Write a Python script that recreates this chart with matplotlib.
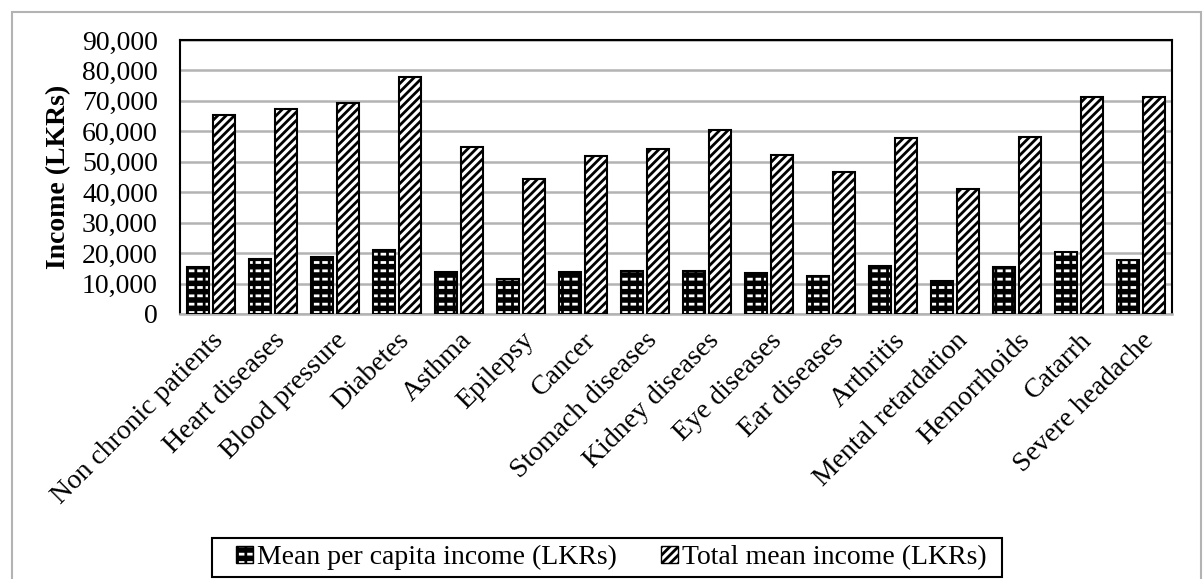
import numpy as np
import matplotlib.pyplot as plt
from matplotlib.ticker import FuncFormatter
from matplotlib.patches import Rectangle

plt.rcParams['font.family'] = ['Liberation Serif', 'DejaVu Serif']
plt.rcParams['hatch.linewidth'] = 2.0

categories = ['Non chronic patients', 'Heart diseases', 'Blood pressure', 'Diabetes',
              'Asthma', 'Epilepsy', 'Cancer', 'Stomach diseases', 'Kidney diseases',
              'Eye diseases', 'Ear diseases', 'Arthritis', 'Mental retardation',
              'Hemorrhoids', 'Catarrh', 'Severe headache']
mean_per_capita = [15300, 18000, 18700, 21000, 13800, 11500, 13800, 14200,
                   14200, 13600, 12600, 15900, 10700, 15300, 20200, 17600]
total_mean = [65500, 67200, 69200, 78000, 55000, 44500, 51900, 54200,
              60400, 52100, 46600, 57900, 41200, 58000, 71200, 71200]

x = np.arange(len(categories))
w = 0.355

fig = plt.figure(figsize=(12.04, 5.79), dpi=100)
ax = fig.add_axes([0.1495, 0.4577, 0.8239, 0.4732])

# mean per capita: black with white dashes (brick look)
ax.bar(x - 0.21, mean_per_capita, w, color='black', edgecolor='white', hatch='--',
       linewidth=0, zorder=3)
ax.bar(x - 0.21, mean_per_capita, w, facecolor='none', edgecolor='black', hatch='||',
       linewidth=1.5, zorder=4)
# total mean: diagonal stripes
ax.bar(x + 0.21, total_mean, w, color='white', edgecolor='black', hatch='////',
       linewidth=1.5, zorder=3)

ax.set_xlim(-0.5, len(categories) - 0.5)
ax.set_ylim(0, 90000)
ax.set_yticks(np.arange(0, 90001, 10000))
ax.yaxis.set_major_formatter(FuncFormatter(lambda v, p: f'{int(v):,}'))
ax.set_xticks(x)
ax.set_xticklabels(categories, rotation=45, ha='right', rotation_mode='anchor')
ax.tick_params(axis='both', length=0, labelsize=20)
ax.tick_params(axis='x', pad=10)
ax.tick_params(axis='y', pad=16)
ax.yaxis.grid(True, color='#b3b3b3', linewidth=1.8, zorder=0)
ax.set_axisbelow(True)
for s in ['top', 'right', 'left']:
    ax.spines[s].set_color('black')
    ax.spines[s].set_linewidth(1.5)
ax.spines['bottom'].set_color('#b3b3b3')
ax.spines['bottom'].set_linewidth(1.8)
ax.set_ylabel('Income (LKRs)', fontsize=20, fontweight='bold', labelpad=8)

h1a = Rectangle((0, 0), 1, 1, facecolor='black', edgecolor='white', hatch='--', linewidth=0)
h1b = Rectangle((0, 0), 1, 1, facecolor='none', edgecolor='black', hatch='||', linewidth=1)
h2 = Rectangle((0, 0), 1, 1, facecolor='white', edgecolor='black', hatch='////', linewidth=1)
leg = fig.legend([(h1a, h1b), h2],
                 ['Mean per capita income (LKRs)', 'Total mean income (LKRs)'],
                 loc='center', bbox_to_anchor=(0.5076, 0.037), ncol=2, fontsize=20,
                 frameon=False, handlelength=0.6, handleheight=0.6,
                 handletextpad=0.15, columnspacing=1.6)

# legend box and outer chart border
fig.patches.append(Rectangle((212 / 1204, 1 - 577 / 579), 790 / 1204, 39 / 579,
                             transform=fig.transFigure, fill=False,
                             edgecolor='black', linewidth=1.5))
fig.patches.append(Rectangle((0.01, -0.05), 0.9875, 1.029, transform=fig.transFigure,
                             fill=False, edgecolor='#b3b3b3', linewidth=1.5))

fig.savefig('out.png', dpi=100)
